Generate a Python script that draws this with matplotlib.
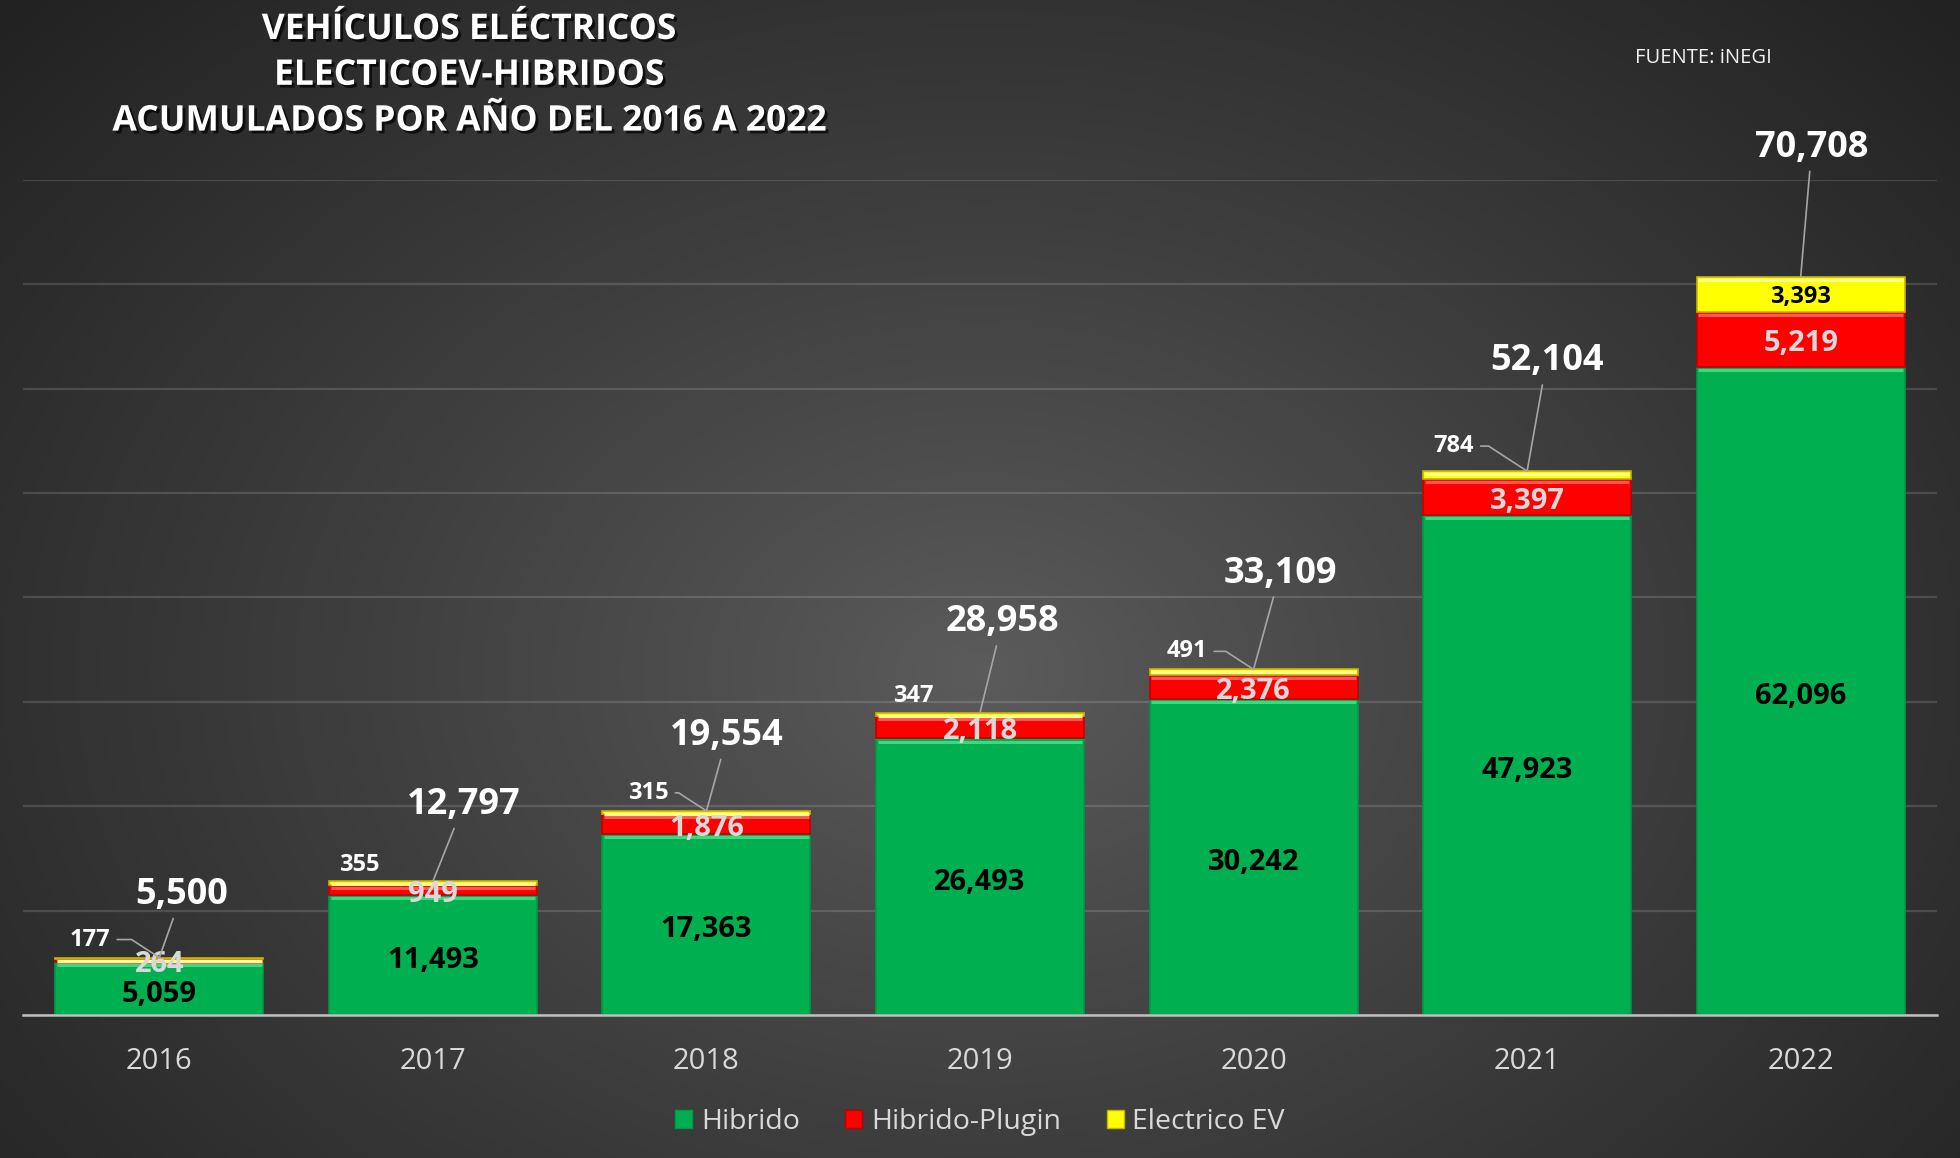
import numpy as np
import matplotlib
matplotlib.use("Agg")
import matplotlib.pyplot as plt
import matplotlib.patheffects as pe
import matplotlib.transforms as mtransforms
from matplotlib.patches import Patch

plt.rcParams['font.family'] = ['Open Sans', 'DejaVu Sans']

#-------------------
# data

years = ['2016', '2017', '2018', '2019', '2020', '2021', '2022']
hibrido = [5059, 11493, 17363, 26493, 30242, 47923, 62096]
plugin = [264, 949, 1876, 2118, 2376, 3397, 5219]
electrico = [177, 355, 315, 347, 491, 784, 3393]
series_names = ['Hibrido', 'Hibrido-Plugin', 'Electrico EV']
title_lines = ['VEHÍCULOS ELÉCTRICOS', 'ELECTICOEV-HIBRIDOS',
               'ACUMULADOS POR AÑO DEL 2016 A 2022']
source_text = 'FUENTE: iNEGI'

#-------------------
# layout of the hand placed labels (offset points from the bar top)

total_offsets = [(16, 45), (22, 55), (15, 54), (16, 65), (19, 69), (14, 79), (8, 93)]
ev_offsets = [(-50, 13), (-53, 12), (-42, 13), (-48, 12), (-48, 13), (-53, 18), None]
ev_leader = [True, False, True, False, True, True, False]

green, red, yellow = '#00b050', '#ff0000', '#ffff00'
edges = ['#009a44', '#c00000', '#c8b400']
bevels = ['#3fd77f', '#ff5a5a', '#ffff9a']
lbl_gray = '#d9d9d9'

#-------------------

fig = plt.figure(figsize=(19.6, 11.58), dpi=100)

# radial gradient background
bg = fig.add_axes([0, 0, 1, 1], zorder=-10)
yy, xx = np.mgrid[0:1:400j, 0:1:680j]
d = np.sqrt(((xx - 0.5) / 0.5) ** 2 + ((yy - 0.58) / 0.62) ** 2) / np.sqrt(2)
d = np.clip(d, 0, 1) ** 0.9
c_in, c_out = 0.36, 0.125
shade = c_in * (1 - d) + c_out * d
bg.imshow(np.dstack([shade] * 3), extent=[0, 1, 0, 1], aspect='auto', origin='upper')
bg.axis('off')

ax = fig.add_axes([0.0115, 0.1235, 0.977, 0.7211])
ax.set_facecolor('none')

x = np.arange(len(years))
hib = np.array(hibrido)
plg = np.array(plugin)
ev = np.array(electrico)
totals = hib + plg + ev
w = 0.76

bottoms = [np.zeros(len(x)), hib, hib + plg]
for vals, bot, col, ec, bev in zip([hib, plg, ev], bottoms, [green, red, yellow], edges, bevels):
    ax.bar(x, vals, width=w, bottom=bot, color=col, edgecolor=ec, linewidth=1.2, zorder=3)
    # light bevel along the top of each segment
    shift = mtransforms.offset_copy(ax.transData, fig=fig, x=0, y=-2.2, units='points')
    ax.hlines(bot + vals, x - w / 2 + 0.006, x + w / 2 - 0.006, colors=bev, linewidth=2.2,
              transform=shift, zorder=4)

ax.set_xlim(-0.5, len(years) - 0.5)
ax.set_ylim(0, 80000)
ax.set_yticks(np.arange(0, 80001, 10000))
ax.set_yticklabels([])
ax.tick_params(axis='y', length=0)
ax.yaxis.grid(True, color='white', alpha=0.14, linewidth=1.6, zorder=0)
ax.set_axisbelow(True)
for s in ['top', 'right', 'left']:
    ax.spines[s].set_visible(False)
ax.spines['bottom'].set_color('#bfbfbf')
ax.spines['bottom'].set_linewidth(1.8)
ax.spines['bottom'].set_zorder(5)

ax.set_xticks(x)
ax.set_xticklabels(years, fontsize=21, color=lbl_gray)
ax.tick_params(axis='x', length=0, pad=23)

# segment labels
for i in range(len(years)):
    ax.annotate(f'{hib[i]:,}', xy=(i, hib[i] / 2), xytext=(0, -4), textcoords='offset points',
                ha='center', va='center', fontsize=21, fontweight='bold', color='black', zorder=6)
    ax.annotate(f'{plg[i]:,}', xy=(i, hib[i] + plg[i] / 2), xytext=(0, -3),
                textcoords='offset points', ha='center', va='center',
                fontsize=21, fontweight='bold', color=lbl_gray, zorder=6)

    if ev_offsets[i] is None:
        ax.annotate(f'{ev[i]:,}', xy=(i, hib[i] + plg[i] + ev[i] / 2), xytext=(0, -2),
                    textcoords='offset points', ha='center', va='center',
                    fontsize=17, fontweight='bold', color='black', zorder=6)
    else:
        arrow = None
        if ev_leader[i]:
            arrow = dict(arrowstyle='-', color='#a6a6a6', lw=1.2, shrinkA=3, shrinkB=0,
                         relpos=(1, 0.5),
                         connectionstyle='angle,angleA=0,angleB=147,rad=0')
        ax.annotate(f'{ev[i]:,}', xy=(i, totals[i]), xytext=ev_offsets[i],
                    textcoords='offset points', ha='center', va='center',
                    fontsize=17, fontweight='bold', color='white',
                    arrowprops=arrow, annotation_clip=False, zorder=7)

    # total on top with leader line
    ax.annotate(f'{totals[i]:,}', xy=(i, totals[i]), xytext=total_offsets[i],
                textcoords='offset points', ha='center', va='center',
                fontsize=26, fontweight='bold', color='white',
                arrowprops=dict(arrowstyle='-', color='#a6a6a6', lw=1.2,
                                shrinkA=2, shrinkB=0),
                annotation_clip=False, zorder=7)

# legend
handles = [Patch(facecolor=c, edgecolor=e) for c, e in zip([green, red, yellow], edges)]
fig.legend(handles, series_names, loc='center', bbox_to_anchor=(0.5, 0.031), ncol=3,
           frameon=False, fontsize=20.5, labelcolor=lbl_gray, handlelength=0.6,
           handleheight=0.6, handletextpad=0.3, columnspacing=1.6)

# title and source
shadow = [pe.SimplePatchShadow(offset=(2, -2), shadow_rgbFace='black', alpha=0.7), pe.Normal()]
for k, line in enumerate(title_lines):
    fig.text(0.239, 1 - (30 + 45.8 * k) / 1158, line, ha='center', va='center',
             fontsize=25.5, fontweight='bold', color='white', path_effects=shadow)
fig.text(0.834, 1 - 58 / 1158, source_text, ha='left', va='center',
         fontsize=14.5, color='#f2f2f2')

fig.savefig('out.png', dpi=100)
